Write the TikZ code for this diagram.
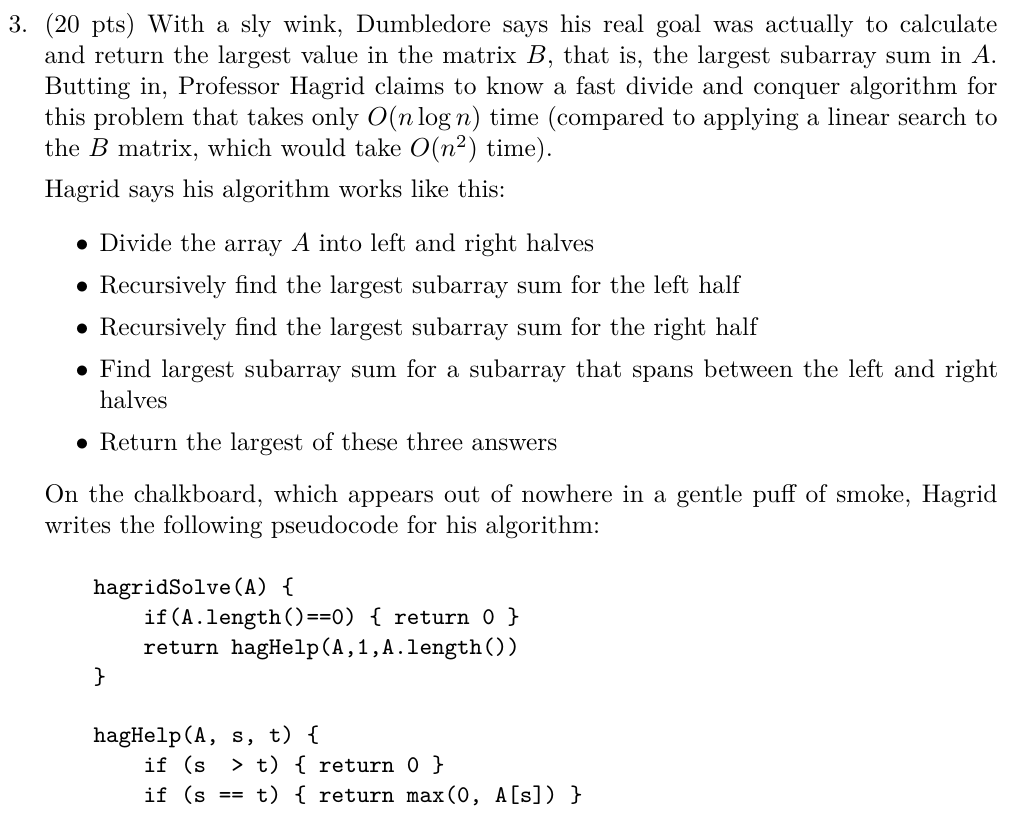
\documentclass[tikz,border=0pt]{standalone}
\begin{document}
\begin{tikzpicture}[x=0.385pt,y=-0.385pt,
  t/.style={anchor=base west,inner sep=0pt,font=\fontsize{9.8}{12}\selectfont},
  c/.style={anchor=base west,inner sep=0pt,font=\fontsize{9.2}{12}\selectfont\ttfamily}]
\useasboundingbox (0,0) rectangle (1024,819);
\def\J#1#2{\makebox[#1][s]{#2}}
\node[t] (n3) at (8,33) {3.};
\node[t] (l1) at (44,33) {\J{366.9pt}{(20 pts) With a sly wink, Dumbledore says his real goal was actually to calculate}};
\node[t] (l2) at (44,64) {\J{366.9pt}{and return the largest value in the matrix $B$, that is, the largest subarray sum in $A$.}};
\node[t] (l3) at (44,95) {\J{366.9pt}{Butting in, Professor Hagrid claims to know a fast divide and conquer algorithm for}};
\node[t] (l4) at (44,126) {\J{366.9pt}{this problem that takes only $O(n\log n)$ time (compared to applying a linear search to}};
\node[t] (l5) at (44,157) {the $B$ matrix, which would take $O(n^2)$ time).};
\node[t] (h1) at (44,198) {Hagrid says his algorithm works like this:};
\node[t] (b1) at (75,252) {$\bullet$};
\node[t] (i1) at (99,252) {Divide the array $A$ into left and right halves};
\node[t] (b2) at (75,294) {$\bullet$};
\node[t] (i2) at (99,294) {Recursively find the largest subarray sum for the left half};
\node[t] (b3) at (75,336) {$\bullet$};
\node[t] (i3) at (99,336) {Recursively find the largest subarray sum for the right half};
\node[t] (b4) at (75,378) {$\bullet$};
\node[t] (i4) at (99,378) {\J{346pt}{Find largest subarray sum for a subarray that spans between the left and right}};
\node[t] (i4b) at (99,409) {halves};
\node[t] (b5) at (75,451) {$\bullet$};
\node[t] (i5) at (99,451) {Return the largest of these three answers};
\node[t] (o1) at (44,502) {\J{366.9pt}{On the chalkboard, which appears out of nowhere in a gentle puff of smoke, Hagrid}};
\node[t] (o2) at (44,533) {writes the following pseudocode for his algorithm:};
\node[c] (c1) at (93,594) {hagridSolve(A)\ \{};
\node[c] (c2) at (143,624) {if(A.length()==0)\ \{\ return\ 0\ \}};
\node[c] (c3) at (143,654) {return\ hagHelp(A,1,A.length())};
\node[c] (c4) at (93,684) {\}};
\node[c] (c5) at (93,742) {hagHelp(A,\ s,\ t)\ \{};
\node[c] (c6) at (143,772) {if\ (s\ \ >\ t)\ \{\ return\ 0\ \}};
\node[c] (c7) at (143,802) {if\ (s\ ==\ t)\ \{\ return\ max(0,\ A[s])\ \}};
\end{tikzpicture}
\end{document}
